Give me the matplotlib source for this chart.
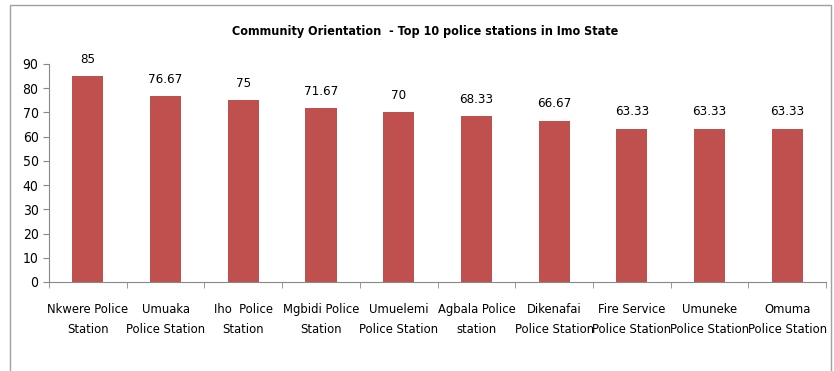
import matplotlib.pyplot as plt
import numpy as np
from matplotlib.patches import Rectangle

plt.rcParams['font.family'] = ['DejaVu Sans']
plt.rcParams['font.stretch'] = 'condensed'

stations = ['Nkwere Police\nStation', 'Umuaka\nPolice Station', 'Iho  Police\nStation',
            'Mgbidi Police\nStation', 'Umuelemi\nPolice Station', 'Agbala Police\nstation',
            'Dikenafai\nPolice Station', 'Fire Service\nPolice Station', 'Umuneke\nPolice Station',
            'Omuma\nPolice Station']
scores = [85, 76.67, 75, 71.67, 70, 68.33, 66.67, 63.33, 63.33, 63.33]
labels = ['85', '76.67', '75', '71.67', '70', '68.33', '66.67', '63.33', '63.33', '63.33']

fig = plt.figure(figsize=(8.34, 3.71), dpi=100)
# chart frame
fig.patches.append(Rectangle((0.012, -0.01), 0.985, 0.997, transform=fig.transFigure,
                             fill=False, edgecolor='#a0a0a0', linewidth=1))
ax = fig.add_axes([0.0588, 0.2399, 0.9317, 0.5876])

x = np.arange(len(stations))
ax.bar(x, scores, width=0.4, color='#C0504D')
for i in range(len(scores)):
    ax.text(x[i], scores[i] + 4.3, labels[i], ha='center', va='bottom', fontsize=9.5)

ax.set_xlim(-0.5, len(stations) - 0.5)
ax.set_ylim(0, 90)
ax.set_yticks(np.arange(0, 91, 10))
ax.set_xticks(x)
ax.set_xticklabels(stations, fontsize=9.3, linespacing=1.75)
ax.set_xticks(np.arange(-0.5, len(stations), 1), minor=True)
ax.tick_params(axis='x', which='major', length=0, pad=15)
ax.tick_params(axis='x', which='minor', length=4, color='#888888')
ax.tick_params(axis='y', length=4, color='#888888', labelsize=10)

for s in ['top', 'right']:
    ax.spines[s].set_visible(False)
for s in ['left', 'bottom']:
    ax.spines[s].set_color('#888888')

fig.text(0.51, 0.916, 'Community Orientation  - Top 10 police stations in Imo State',
         ha='center', va='center', fontsize=9, fontweight='bold')

fig.savefig('out.png', dpi=100)
